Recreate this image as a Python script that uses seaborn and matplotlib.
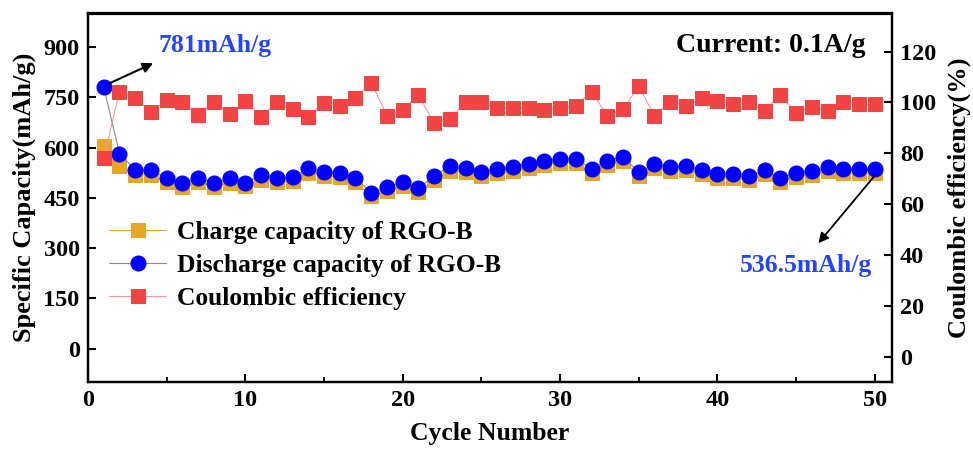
import numpy as np
import matplotlib
matplotlib.use("Agg")
import matplotlib.pyplot as plt
import seaborn as sns
from matplotlib.ticker import MultipleLocator

# data
cycles = list(range(1, 51))
charge = [606, 546, 518, 518, 497, 481, 497, 483, 495, 484,
          504, 496, 500, 525, 515, 512, 497, 455, 470, 486,
          467, 503, 531, 526, 516, 523, 529, 539, 549, 554,
          555, 524, 549, 559, 515, 538, 529, 532, 520, 510,
          508, 503, 520, 496, 513, 518, 529, 523, 523, 524]
discharge = [781, 582, 533, 532, 510, 493, 509, 495, 508, 495,
             517, 508, 512, 538, 528, 525, 510, 465, 482, 498,
             478, 515, 544, 538, 528, 535, 541, 551, 561, 566,
             567, 536, 561, 571, 527, 550, 541, 544, 532, 522,
             520, 515, 532, 508, 525, 530, 541, 535, 535, 536.5]
efficiency = [78.0, 104.3, 101.7, 96.4, 101.0, 100.1, 95.1, 100.1, 95.5, 100.6,
              94.4, 100.1, 97.3, 94.4, 99.9, 98.8, 101.7, 107.8, 94.8, 97.1,
              103.0, 91.8, 93.5, 100.1, 100.3, 97.7, 97.7, 97.7, 97.1, 97.7,
              98.6, 104.3, 94.8, 97.3, 106.5, 94.8, 100.3, 98.6, 101.7, 100.7,
              99.3, 100.1, 96.7, 103.0, 96.0, 98.1, 96.8, 100.3, 99.3, 99.3]

sns.set_style("ticks")
plt.rcParams['font.family'] = ['Liberation Serif', 'DejaVu Serif']
plt.rcParams['font.weight'] = 'bold'
plt.rcParams['axes.labelweight'] = 'bold'
plt.rcParams['text.color'] = 'black'
plt.rcParams['axes.labelcolor'] = 'black'
plt.rcParams['xtick.color'] = 'black'
plt.rcParams['ytick.color'] = 'black'

orange = '#E6A628'
blue = '#0000FF'
red = '#F24444'

fig = plt.figure(figsize=(9.73, 4.5), dpi=100)
ax = fig.add_axes([0.0904, 0.151, 0.8260, 0.819])
ax2 = ax.twinx()

sns.lineplot(x=cycles, y=charge, ax=ax, color=orange, linewidth=0.8,
             marker='s', markersize=10, markeredgecolor=orange,
             label='Charge capacity of RGO-B', legend=False)
sns.lineplot(x=cycles, y=discharge, ax=ax, color='#8a8a8a', linewidth=0.8,
             marker='o', markersize=10.8, markerfacecolor=blue, markeredgecolor=blue,
             label='Discharge capacity of RGO-B', legend=False)
sns.lineplot(x=cycles, y=efficiency, ax=ax2, color='#F79A9A', linewidth=0.8,
             marker='s', markersize=10, markerfacecolor=red, markeredgecolor=red,
             label='Coulombic efficiency', legend=False)

ax.set_xlim(0, 51.07)
ax.set_ylim(-100, 1000)
ax2.set_ylim(-10, 135)

ax.xaxis.set_major_locator(MultipleLocator(10))
ax.xaxis.set_minor_locator(MultipleLocator(5))
ax.set_yticks([0, 150, 300, 450, 600, 750, 900])
ax2.set_yticks([0, 20, 40, 60, 80, 100, 120])

for a in (ax, ax2):
    for s in a.spines.values():
        s.set_linewidth(1.6)
        s.set_color('black')
ax.tick_params(axis='both', which='major', direction='in', length=6, width=1.5,
               labelsize=17.5, pad=6)
ax.tick_params(axis='x', which='minor', direction='in', length=3.5, width=1.3)
ax2.tick_params(axis='y', which='major', direction='in', length=6, width=1.5,
                labelsize=17.5, pad=6)

ax.set_xlabel('Cycle Number', fontsize=18.5, labelpad=8)
ax.set_ylabel('Specific Capacity(mAh/g)', fontsize=19, labelpad=5)
ax2.set_ylabel('Coulombic efficiency(%)', fontsize=19, labelpad=8)

ax.annotate('', xy=(4.3, 855), xytext=(1.2, 788),
            arrowprops=dict(arrowstyle='-|>', color='black', lw=1.5, mutation_scale=15))
ax.text(4.5, 905, '781mAh/g', color='#2244FF', fontsize=18.5, fontweight='bold',
        ha='left', va='center')
ax.annotate('', xy=(46.3, 308), xytext=(50.1, 522),
            arrowprops=dict(arrowstyle='-|>', color='black', lw=1.3, mutation_scale=15))
ax.text(49.8, 248, '536.5mAh/g', color='#2244FF', fontsize=18.5, fontweight='bold',
        ha='right', va='center')
ax.text(49.4, 905, 'Current: 0.1A/g', color='black', fontsize=20, fontweight='bold',
        ha='right', va='center')

h1, l1 = ax.get_legend_handles_labels()
h2, l2 = ax2.get_legend_handles_labels()
ax.legend(h1 + h2, l1 + l2, loc='upper left', bbox_to_anchor=(0.014, 0.466),
          frameon=False, fontsize=18.4, handlelength=2.2, handletextpad=0.45,
          labelspacing=0.4, borderaxespad=0)

fig.savefig('out.png', dpi=100)
